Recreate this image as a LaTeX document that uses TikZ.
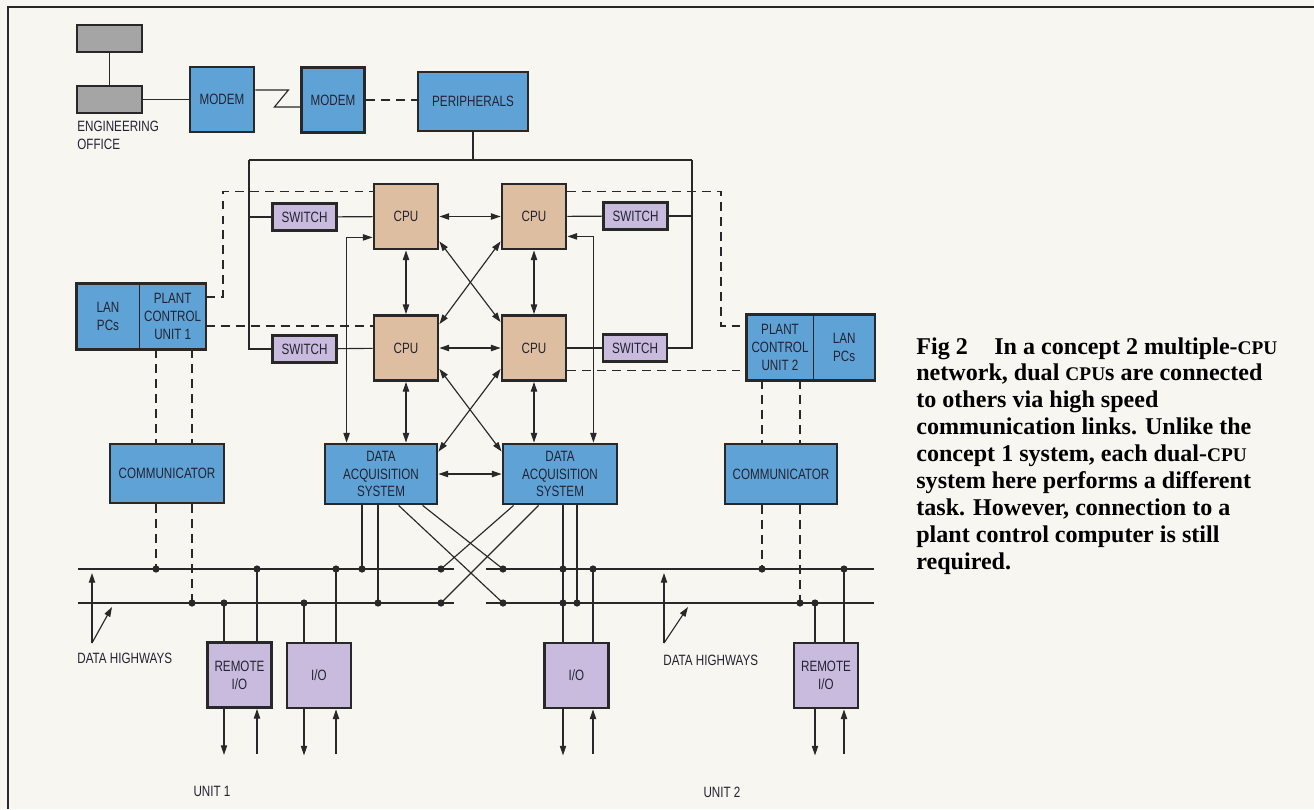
\documentclass[tikz,border=0pt]{standalone}
\usepackage{fontspec}
\usetikzlibrary{arrows.meta,calc,positioning}
\newfontfamily\lblfam[FakeStretch=0.78]{Liberation Sans}
\newfontfamily\capfam{Liberation Serif}
\newcommand\lblfont{\lblfam\fontsize{8.5pt}{10.2pt}\selectfont}
\newcommand\capcpu{{\fontsize{11pt}{11pt}\selectfont CPU}}
\definecolor{papercol}{RGB}{247,246,240}
\definecolor{boxblue}{RGB}{95,162,214}
\definecolor{cputan}{RGB}{222,190,160}
\definecolor{swlav}{RGB}{201,187,222}
\definecolor{offgray}{RGB}{165,165,165}
\definecolor{linec}{RGB}{40,40,40}
\definecolor{txtc}{RGB}{35,35,50}
\begin{document}
\begin{tikzpicture}[x=0.02cm,y=-0.02cm,
  >={Triangle[length=5.5pt,width=3.6pt]},
  bx/.style 2 args={minimum width=#1*0.02cm, minimum height=#2*0.02cm},
  blk/.style={draw=linec, line width=1.6pt, fill=boxblue, text=txtc, font=\lblfont, align=center, inner sep=0pt},
  gry/.style={blk, fill=offgray, bx={65}{27}},
  cpu/.style={blk, fill=cputan, bx={64}{65}},
  sw/.style={blk, fill=swlav, bx={64}{27}},
  io/.style={blk, fill=swlav, bx={64}{65}},
  pcu/.style={fill=boxblue, text=txtc, font=\lblfont, align=center, inner sep=0pt},
  lbl/.style={text=txtc, font=\lblfont, align=left, inner sep=0pt},
  conn/.style={draw=linec, line width=0.65pt},
  dsh/.style={dash pattern=on 5pt off 3.5pt},
  capt/.style={text=black, font=\capfam\bfseries\fontsize{13.7pt}{15.3pt}\selectfont, align=left, inner sep=0pt}]
  \useasboundingbox (0,0) rectangle (1314,809);
  \fill[papercol] (0,0) rectangle (1314,809);
  % page frame
  \draw[draw=linec, line width=1.6pt] (8,809) -- (8,7) -- (1314,7);

  % engineering office and modems
  \node[gry] (offA) at (109.5,38.5) {};
  \node[gry] (offB) at (109.5,99.5) {};
  \node[lbl, anchor=north west] (engl) at (77,121) {ENGINEERING\\OFFICE};
  \node[blk, bx={64}{65}] (modemA) at (222,99.5) {MODEM};
  \node[blk, bx={63}{65}] (modemB) at (333,100) {MODEM};
  \node[blk, bx={110}{59}] (periph) at (473,101.5) {PERIPHERALS};

  % CPUs and switches
  \node[cpu] (cpuA) at (406,216.5) {CPU};
  \node[cpu] (cpuB) at (534,216.5) {CPU};
  \node[cpu] (cpuC) at (406,348) {CPU};
  \node[cpu] (cpuD) at (534,348) {CPU};
  \node[sw] (swA) at (304.5,217) {SWITCH};
  \node[sw] (swB) at (635.5,216) {SWITCH};
  \node[sw] (swC) at (304.5,349) {SWITCH};
  \node[sw] (swD) at (635,348) {SWITCH};

  % plant control units
  \node[pcu, bx={62}{65}] (lanA) at (108,316.5) {LAN\\PCs};
  \node[pcu, bx={66}{65}, right=0pt of lanA] (plantA) {PLANT\\CONTROL\\UNIT 1};
  \draw[draw=linec, line width=1.6pt] (lanA.north west) rectangle (plantA.south east);
  \draw[conn] (lanA.north east) -- (lanA.south east);
  \node[pcu, bx={66}{65}] (plantB) at (780,347.5) {PLANT\\CONTROL\\UNIT 2};
  \node[pcu, bx={61}{65}, right=0pt of plantB] (lanB) {LAN\\PCs};
  \draw[draw=linec, line width=1.6pt] (plantB.north west) rectangle (lanB.south east);
  \draw[conn] (plantB.north east) -- (plantB.south east);

  % communicators and data acquisition
  \node[blk, bx={114}{59}] (comA) at (167,473.5) {COMMUNICATOR};
  \node[blk, bx={112}{60}] (comB) at (781,474) {COMMUNICATOR};
  \node[blk, bx={112}{60}] (dasA) at (381,474) {DATA\\ACQUISITION\\SYSTEM};
  \node[blk, bx={114}{60}] (dasB) at (560,474) {DATA\\ACQUISITION\\SYSTEM};

  % remote and local I/O
  \node[io] (rioA) at (239.5,675) {REMOTE\\I/O};
  \node[io] (ioA) at (319,675.5) {I/O};
  \node[io] (ioB) at (576.5,675.5) {I/O};
  \node[io] (rioB) at (826,675.5) {REMOTE\\I/O};

  % top links
  \draw[conn] (offA) -- (offB);
  \draw[conn] (offB) -- (modemA);
  \draw[conn] ($(modemA.east)+(0,-9.5)$) -- ++(33,0) -- ++(-14,17) -- ($(modemB.west)+(0,7)$);
  \draw[conn,dsh] (modemB.east) -- (modemB.east -| periph.west);
  \coordinate (frmL) at (249,160);
  \coordinate (frmR) at (692,160);
  \draw[conn] (periph.south) -- (periph.south |- frmL);
  \draw[conn] (frmL) -- (frmR);
  \draw[conn] (frmL) |- (swC.west);
  \draw[conn] (frmL |- swA.west) -- (swA.west);
  \draw[conn] (frmR) |- (swD.east);
  \draw[conn] (frmR |- swB.east) -- (swB.east);
  \draw[conn] (swA) -- (cpuA);
  \draw[conn] (swC) -- (cpuC);
  \draw[conn] (cpuB) -- (swB);
  \draw[conn] (cpuD) -- (swD);

  % links to plant control units
  \coordinate (dlA) at (223,297);
  \coordinate (dlB) at (721,326);
  \draw[conn,dsh] (plantA.east |- dlA) -- (dlA) |- ($(cpuA.north west)+(0,9)$);
  \draw[conn,dsh] ($(plantA.east)+(0,9.5)$) coordinate (dlC) -- (dlC -| cpuC.west);
  \draw[conn,dsh] ($(cpuB.north east)+(0,9)$) -| (dlB) -- (dlB -| plantB.west);
  \draw[conn,dsh] ($(cpuD.south east)+(0,-11)$) coordinate (dlD) -- (dlD -| plantB.west);

  % high speed links
  \draw[conn,<->] (cpuA) -- (cpuB);
  \draw[conn,<->] (cpuC) -- (cpuD);
  \draw[conn,<->] (cpuA) -- (cpuC);
  \draw[conn,<->] (cpuB) -- (cpuD);
  \draw[conn,<->] ($(cpuA.south east)+(0,-9)$) -- ($(cpuD.north west)+(0,8)$);
  \draw[conn,<->] ($(cpuB.south west)+(0,-9)$) -- ($(cpuC.north east)+(0,10)$);
  \draw[conn,<->] ($(cpuC.south east)+(0,-13)$) -- ($(dasB.north west)+(0,9)$);
  \draw[conn,<->] ($(cpuD.south west)+(0,-13)$) -- ($(dasA.north east)+(0,9)$);
  \draw[conn,<->] (cpuC.south) -- (cpuC.south |- dasA.north);
  \draw[conn,<->] (cpuD.south) -- (cpuD.south |- dasB.north);
  \draw[conn,<->] ($(cpuA.south west)+(0,-13)$) -| ($(dasA.north west)+(23,0)$);
  \draw[conn,<->] ($(cpuB.south east)+(0,-14)$) -| ($(dasB.north east)+(-25,0)$);
  \draw[conn,<->] (dasA) -- (dasB);

  % data highways
  \draw[conn] (78,569) -- (454,569);
  \draw[conn] (78,603) -- (454,603);
  \draw[conn] (486,569) -- (874,569);
  \draw[conn] (486,603) -- (874,603);
  \foreach \n/\x in {1/156,2/257,3/336,4/362,5/441,6/503,7/563,8/593,9/762,10/844}
    \coordinate (u\n) at (\x,569);
  \foreach \n/\x in {1/192,2/224,3/304,4/378,5/441,6/503,7/563,8/577,9/800,10/815}
    \coordinate (l\n) at (\x,603);
  \foreach \n in {1,...,10} {
    \fill[linec] (u\n) circle[radius=3.6];
    \fill[linec] (l\n) circle[radius=3.6];
  }

  % drops to the highways
  \foreach \t in {u1,l1} {
    \draw[conn,dsh] (plantA.south -| \t) -- (comA.north -| \t);
    \draw[conn,dsh] (comA.south -| \t) -- (\t);
  }
  \foreach \t in {u9,l9} {
    \draw[conn,dsh] (plantB.south -| \t) -- (comB.north -| \t);
    \draw[conn,dsh] (comB.south -| \t) -- (\t);
  }
  \draw[conn] (dasA.south -| u4) -- (u4);
  \draw[conn] (dasA.south -| l4) -- (l4);
  \draw[conn] ($(dasA.south west)+(75,0)$) -- (l6);
  \draw[conn] ($(dasA.south west)+(99,0)$) -- (u6);
  \draw[conn] ($(dasB.south west)+(12,0)$) -- (u5);
  \draw[conn] ($(dasB.south west)+(37,0)$) -- (l5);
  \draw[conn] (dasB.south -| u7) -- (ioB.north -| u7);
  \draw[conn] (dasB.south -| l8) -- (l8);
  \draw[conn] (rioA.north -| l2) -- (l2);
  \draw[conn] (rioA.north -| u2) -- (u2);
  \draw[conn] (ioA.north -| l3) -- (l3);
  \draw[conn] (ioA.north -| u3) -- (u3);
  \draw[conn] (ioB.north -| u8) -- (u8);
  \draw[conn] (rioB.north -| l10) -- (l10);
  \draw[conn] (rioB.north -| u10) -- (u10);

  % field signals
  \foreach \b/\d/\e in {rioA/l2/u2, ioA/l3/u3, ioB/u7/u8, rioB/l10/u10} {
    \draw[conn,->] (\b.south -| \d) -- ++(0,46);
    \draw[conn,<-] (\b.south -| \e) -- ++(0,45);
  }

  % labels
  \coordinate (dhA) at (92,643);
  \coordinate (dhB) at (664,643);
  \draw[conn,->] (dhA) -- ++(0,-70);
  \draw[conn,->] (dhA) -- ++(20,-36);
  \draw[conn,->] (dhB) -- ++(0,-70);
  \draw[conn,->] (dhB) -- ++(24,-36);
  \node[lbl, anchor=west] (dhAl) at (77,658) {DATA HIGHWAYS};
  \node[lbl, anchor=west] (dhBl) at (663,660) {DATA HIGHWAYS};
  \node[lbl] (unitA) at (212,791) {UNIT 1};
  \node[lbl] (unitB) at (722,792) {UNIT 2};

  % caption
  \node[capt, anchor=north west] (capt) at (916,337) {Fig 2\hspace{1.1em}In a concept 2 multiple-\capcpu\\
    network, dual \capcpu{}s are connected\\
    to others via high speed\\
    communication links. Unlike the\\
    concept 1 system, each dual-\capcpu\\
    system here performs a different\\
    task. However, connection to a\\
    plant control computer is still\\
    required.};
\end{tikzpicture}
\end{document}
